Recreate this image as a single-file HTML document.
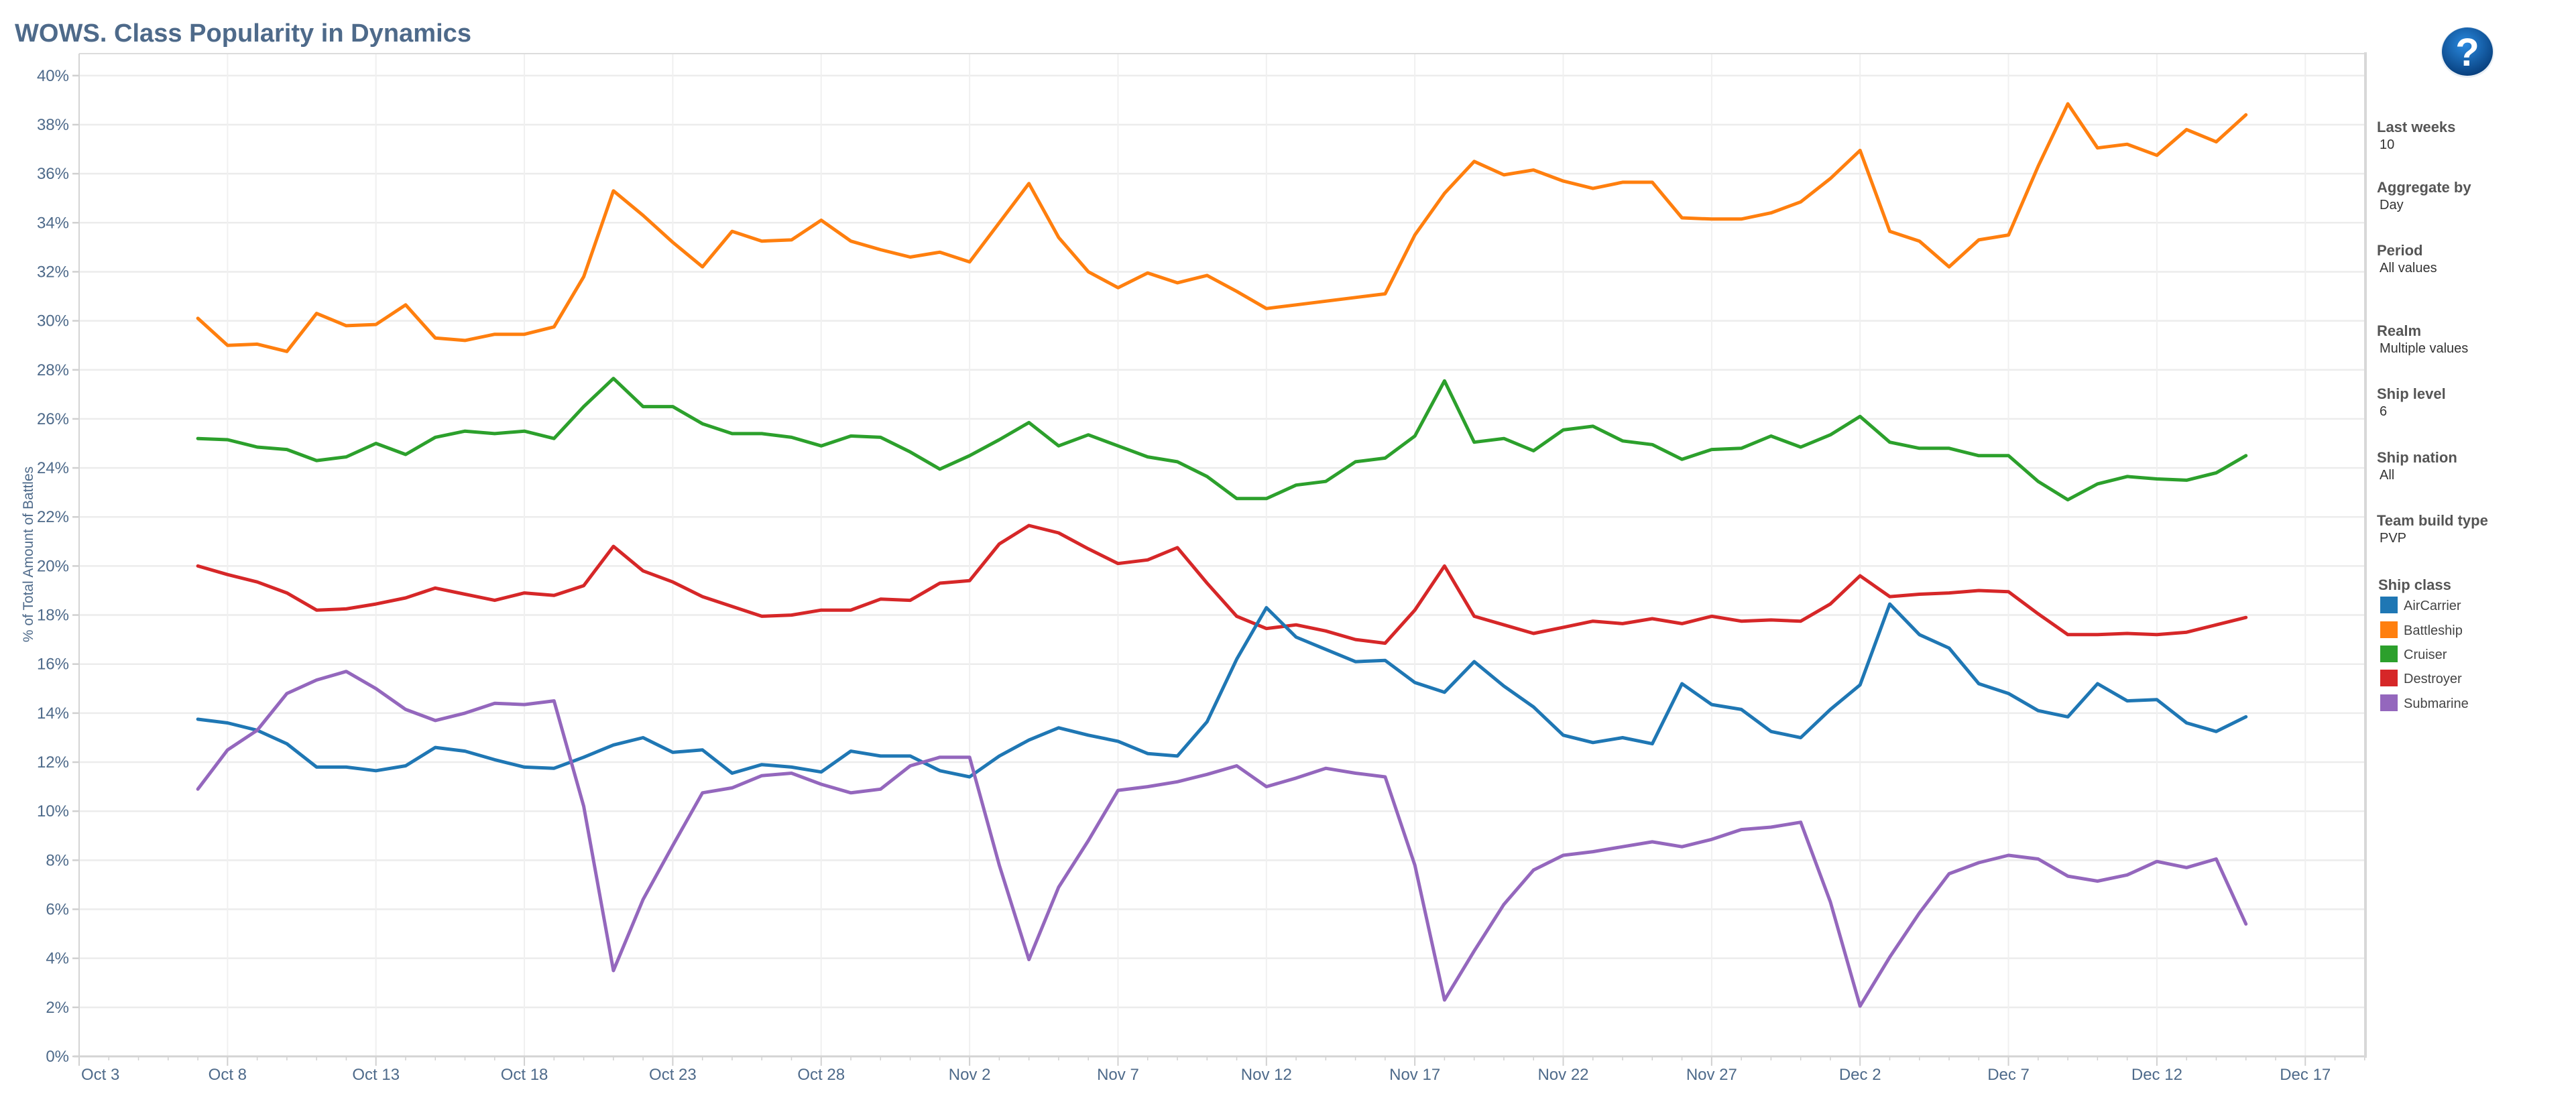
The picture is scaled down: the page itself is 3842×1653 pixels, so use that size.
<!DOCTYPE html>
<html><head><meta charset="utf-8"><style>
html,body{margin:0;padding:0;background:#fff;width:3842px;height:1653px;overflow:hidden}
svg{display:block}
</style></head><body>
<svg id="s" width="3842" height="1653" xmlns="http://www.w3.org/2000/svg" font-family="Liberation Sans, sans-serif"></svg>
<script>
const S=document.getElementById('s');
let h='';
const X0=118,DX=44.27,Y0=1576,DY=36.58;
const x=d=>X0+d*DX, y=v=>Y0-DY*v;
// title
h+=`<text x="22" y="62" font-size="38" font-weight="bold" fill="#4e6a8a" textLength="681" lengthAdjust="spacingAndGlyphs">WOWS. Class Popularity in Dynamics</text>`;
// horizontal gridlines + y labels
for(let v=0;v<=40;v+=2){const yy=y(v);
 if(v>0)h+=`<line x1="118" x2="3528" y1="${yy}" y2="${yy}" stroke="#ececec" stroke-width="2.5"/>`;
 h+=`<line x1="108" x2="118" y1="${yy}" y2="${yy}" stroke="#d0d0d0" stroke-width="2.5"/>`;
 h+=`<text x="103" y="${yy+8}" font-size="24" fill="#4e6a8a" text-anchor="end">${v}%</text>`;}
// vertical gridlines + x labels
const labs=['Oct 3','Oct 8','Oct 13','Oct 18','Oct 23','Oct 28','Nov 2','Nov 7','Nov 12','Nov 17','Nov 22','Nov 27','Dec 2','Dec 7','Dec 12','Dec 17'];
for(let i=0;i<16;i++){const xx=x(i*5);
 if(i>0)h+=`<line x1="${xx}" x2="${xx}" y1="80" y2="1576" stroke="#f0f0f0" stroke-width="2"/>`;
 h+=`<line x1="${xx}" x2="${xx}" y1="1576" y2="1590" stroke="#d0d0d0" stroke-width="2"/>`;
 h+=`<text x="${i==0?xx+3:xx}" y="1611" font-size="24" fill="#4e6a8a" text-anchor="${i==0?'start':'middle'}">${labs[i]}</text>`;}
for(let d=0;d<=77;d++){if(d%5)h+=`<line x1="${x(d)}" x2="${x(d)}" y1="1576" y2="1582" stroke="#d0d0d0" stroke-width="1.5"/>`;}
// borders
h+=`<line x1="118" x2="3528" y1="80" y2="80" stroke="#dcdcdc" stroke-width="2"/>`;
h+=`<line x1="118" x2="118" y1="80" y2="1577" stroke="#d4d4d4" stroke-width="2"/>`;
h+=`<line x1="110" x2="3528" y1="1576" y2="1576" stroke="#d4d4d4" stroke-width="3"/>`;
h+=`<line x1="3528" x2="3528" y1="78" y2="1578" stroke="#d8d8d8" stroke-width="4"/>`;
// y title
h+=`<text transform="translate(49,827) rotate(-90)" font-size="21" fill="#4e6a8a" text-anchor="middle">% of Total Amount of Battles</text>`;
const data={
'#ff7f0e':[30.1,29.0,29.05,28.75,30.3,29.8,29.85,30.65,29.3,29.2,29.45,29.45,29.75,31.8,35.3,34.3,33.2,32.2,33.65,33.25,33.3,34.1,33.25,32.9,32.6,32.8,32.4,34.0,35.6,33.4,32.0,31.35,31.95,31.55,31.85,31.2,30.5,30.65,30.8,30.95,31.1,33.5,35.2,36.5,35.95,36.15,35.7,35.4,35.65,35.65,34.2,34.15,34.15,34.4,34.85,35.8,36.95,33.65,33.25,32.2,33.3,33.5,36.3,38.85,37.05,37.2,36.75,37.8,37.3,38.4],
'#2ca02c':[25.2,25.15,24.85,24.75,24.3,24.45,25.0,24.55,25.25,25.5,25.4,25.5,25.2,26.5,27.65,26.5,26.5,25.8,25.4,25.4,25.25,24.9,25.3,25.25,24.65,23.95,24.5,25.15,25.85,24.9,25.35,24.9,24.45,24.25,23.65,22.75,22.75,23.3,23.45,24.25,24.4,25.3,27.55,25.05,25.2,24.7,25.55,25.7,25.1,24.95,24.35,24.75,24.8,25.3,24.85,25.35,26.1,25.05,24.8,24.8,24.5,24.5,23.45,22.7,23.35,23.65,23.55,23.5,23.8,24.5],
'#d62728':[20.0,19.65,19.35,18.9,18.2,18.25,18.45,18.7,19.1,18.85,18.6,18.9,18.8,19.2,20.8,19.8,19.35,18.75,18.35,17.95,18.0,18.2,18.2,18.65,18.6,19.3,19.4,20.9,21.65,21.35,20.7,20.1,20.25,20.75,19.3,17.95,17.45,17.6,17.35,17.0,16.85,18.2,20.0,17.95,17.6,17.25,17.5,17.75,17.65,17.85,17.65,17.95,17.75,17.8,17.75,18.45,19.6,18.75,18.85,18.9,19.0,18.95,18.05,17.2,17.2,17.25,17.2,17.3,17.6,17.9],
'#1f77b4':[13.75,13.6,13.3,12.75,11.8,11.8,11.65,11.85,12.6,12.45,12.1,11.8,11.75,12.2,12.7,13.0,12.4,12.5,11.55,11.9,11.8,11.6,12.45,12.25,12.25,11.65,11.4,12.25,12.9,13.4,13.1,12.85,12.35,12.25,13.65,16.2,18.3,17.1,16.6,16.1,16.15,15.25,14.85,16.1,15.1,14.25,13.1,12.8,13.0,12.75,15.2,14.35,14.15,13.25,13.0,14.15,15.15,18.45,17.2,16.65,15.2,14.8,14.1,13.85,15.2,14.5,14.55,13.6,13.25,13.85],
'#9467bd':[10.9,12.5,13.3,14.8,15.35,15.7,15.0,14.15,13.7,14.0,14.4,14.35,14.5,10.2,3.5,6.4,8.6,10.75,10.95,11.45,11.55,11.1,10.75,10.9,11.85,12.2,12.2,7.8,3.95,6.9,8.8,10.85,11.0,11.2,11.5,11.85,11.0,11.35,11.75,11.55,11.4,7.8,2.3,4.3,6.2,7.6,8.2,8.35,8.55,8.75,8.55,8.85,9.25,9.35,9.55,6.3,2.05,4.05,5.85,7.45,7.9,8.2,8.05,7.35,7.15,7.4,7.95,7.7,8.05,5.4]};
for(const c in data){const p=data[c].map((v,i)=>x(i+4).toFixed(1)+','+y(v).toFixed(1)).join(' ');
 h+=`<polyline points="${p}" fill="none" stroke="${c}" stroke-width="5" stroke-linejoin="round" stroke-linecap="round"/>`;}
// help icon
h+=`<defs><radialGradient id="g" cx="45%" cy="35%" r="65%"><stop offset="0" stop-color="#2a8ae0"/><stop offset="1" stop-color="#08407e"/></radialGradient></defs>`;
h+=`<ellipse cx="3680" cy="78" rx="40" ry="38" fill="#e8eef4"/><ellipse cx="3680" cy="77" rx="38" ry="36" fill="url(#g)"/>`;
h+=`<text x="3680" y="98" font-size="58" font-weight="bold" fill="#fff" text-anchor="middle">?</text>`;
// filters
const f=[['Last weeks','10',189],['Aggregate by','Day',279],['Period','All values',373],['Realm','Multiple values',493],['Ship level','6',587],['Ship nation','All',682],['Team build type','PVP',776]];
for(const [a,b,yy] of f){h+=`<text x="3545" y="${yy+8}" font-size="22" font-weight="bold" fill="#555">${a}</text><text x="3549" y="${yy+33}" font-size="20" fill="#333">${b}</text>`;}
h+=`<text x="3547" y="880" font-size="22" font-weight="bold" fill="#555">Ship class</text>`;
const lg=[['#1f77b4','AirCarrier',902],['#ff7f0e','Battleship',939],['#2ca02c','Cruiser',975],['#d62728','Destroyer',1011],['#9467bd','Submarine',1048]];
for(const [c,t,yy] of lg){h+=`<rect x="3550" y="${yy-12}" width="26" height="25" fill="${c}"/><text x="3585" y="${yy+8}" font-size="20" fill="#444">${t}</text>`;}
S.innerHTML=h;
</script>
</body></html>
